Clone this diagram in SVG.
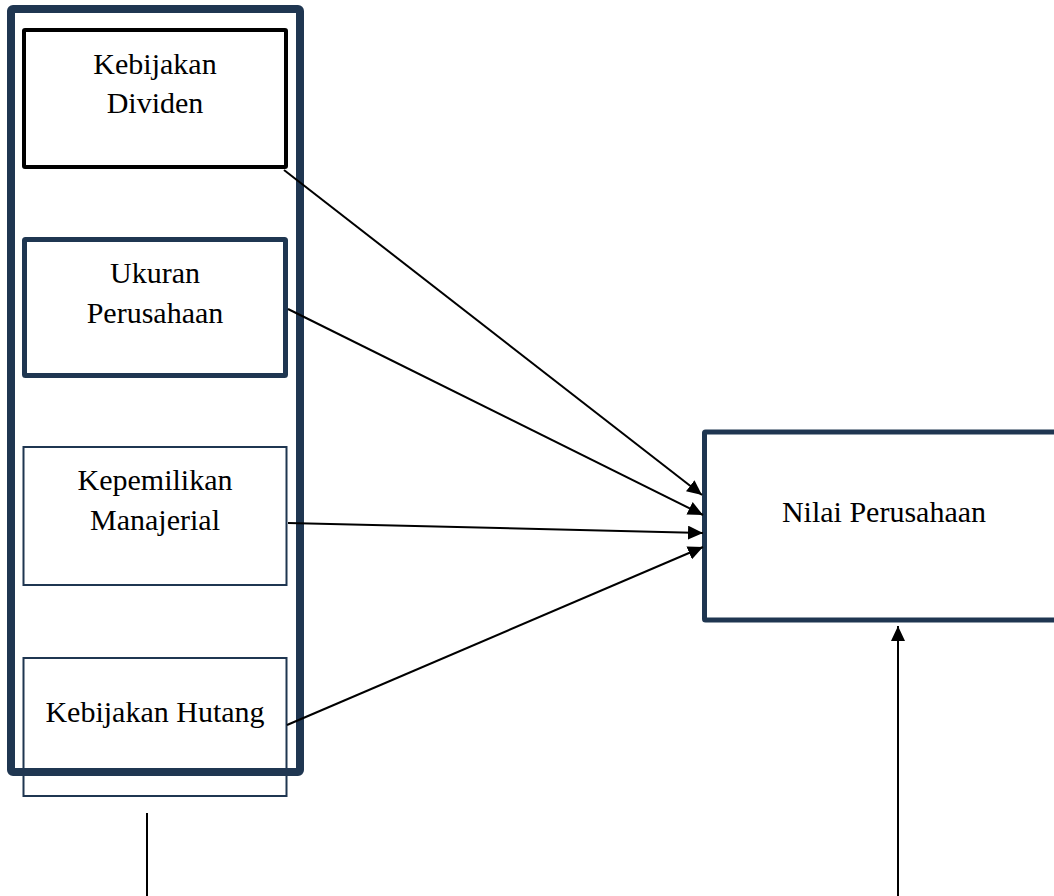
<svg xmlns="http://www.w3.org/2000/svg" width="1054" height="896" viewBox="0 0 1054 896">
<style>
.lbl{font-family:"Liberation Serif","Times New Roman",serif;font-size:30px;fill:#000;text-anchor:middle}
.box{fill:#fff}
.conn{stroke:#000;stroke-width:2;fill:none}
</style>
<defs>
<marker id="arr" markerUnits="userSpaceOnUse" markerWidth="16" markerHeight="14" refX="15" refY="7" orient="auto">
<path d="M0,0 L15,7 L0,14 z" fill="#000"/>
</marker>
</defs>
<rect width="1054" height="896" fill="#fff"/>
<g id="kebijakan-dividen">
<rect class="box" x="24" y="30" width="262" height="137" stroke="#000" stroke-width="4" rx="1"/>
<text class="lbl" x="155" y="74">Kebijakan</text>
<text class="lbl" x="155" y="113">Dividen</text>
</g>
<g id="ukuran-perusahaan">
<rect class="box" x="24.5" y="239.5" width="261" height="136" stroke="#1f3651" stroke-width="5" rx="1"/>
<text class="lbl" x="155" y="283">Ukuran</text>
<text class="lbl" x="155" y="323">Perusahaan</text>
</g>
<g id="kepemilikan-manajerial">
<rect class="box" x="23.5" y="447" width="263" height="138" stroke="#1f3651" stroke-width="2"/>
<text class="lbl" x="155" y="490">Kepemilikan</text>
<text class="lbl" x="155" y="530">Manajerial</text>
</g>
<g id="kebijakan-hutang">
<rect class="box" x="23.5" y="658" width="263" height="138" stroke="#1f3651" stroke-width="2"/>
<text class="lbl" x="155" y="722">Kebijakan Hutang</text>
</g>
<g id="independent-group">
<rect x="11" y="9" width="289" height="763" fill="none" stroke="#1f3651" stroke-width="8" rx="2"/>
</g>
<g id="nilai-perusahaan">
<rect class="box" x="704.5" y="432" width="360" height="188" stroke="#1f3651" stroke-width="5" rx="1"/>
<text class="lbl" x="884" y="522">Nilai Perusahaan</text>
</g>
<g id="connectors">
<line class="conn" x1="284" y1="170" x2="702" y2="495" marker-end="url(#arr)"/>
<line class="conn" x1="288" y1="309" x2="703" y2="515" marker-end="url(#arr)"/>
<line class="conn" x1="288" y1="523" x2="703" y2="533" marker-end="url(#arr)"/>
<line class="conn" x1="287" y1="725" x2="703" y2="547" marker-end="url(#arr)"/>
<line class="conn" x1="898" y1="896" x2="898" y2="626" marker-end="url(#arr)"/>
<line class="conn" x1="147" y1="813" x2="147" y2="896"/>
</g>
</svg>
